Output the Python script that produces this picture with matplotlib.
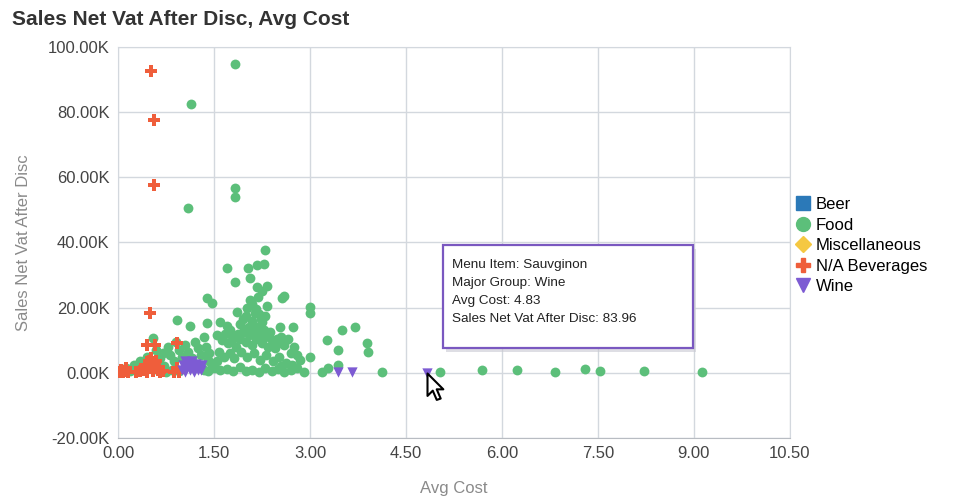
import matplotlib.pyplot as plt
from matplotlib.lines import Line2D
from matplotlib.patches import FancyBboxPatch
from matplotlib.path import Path
import matplotlib.ticker as mticker

plt.rcParams.update({
    "font.family": "Liberation Sans",
    "font.size": 11,
})

# ============================================================
# Data (avg cost, sales in thousands)
# ============================================================

food_x = [1.83, 1.14, 1.09, 1.83, 1.83, 2.30, 2.28,
          1.70, 2.03, 2.17, 1.83, 2.06, 2.17, 2.33, 2.25, 1.39, 1.47, 2.56, 2.60,
          2.06, 2.19, 3.00, 3.00, 1.86, 2.02, 2.10, 2.15, 2.20, 2.00, 1.95, 2.10,
          2.25, 2.30, 2.33, 1.90, 2.05, 0.92, 1.12, 1.39, 1.59, 1.70, 1.75, 2.53,
          2.73, 3.27, 3.50, 3.70, 3.44, 3.89, 3.91, 3.00, 3.19, 3.28, 3.44, 4.13,
          5.03, 5.69, 6.23, 6.83, 7.30, 7.53, 8.22, 9.13,
          1.55, 1.62, 1.68, 1.72, 1.80, 1.85, 1.90, 1.95, 2.00, 2.05, 2.10, 2.15,
          2.20, 2.25, 2.30, 2.35, 2.40, 2.45, 2.50, 2.55, 2.60, 2.65, 2.70, 2.75,
          2.80, 2.85, 1.58, 1.65, 1.75, 1.82, 1.92, 2.02, 2.12, 2.22, 2.32, 2.42,
          2.52, 2.62, 2.72, 1.50, 1.60, 1.70, 1.80, 1.90, 2.00, 2.10, 2.20, 2.30,
          2.40, 2.50, 2.60, 2.70, 2.80, 2.90, 2.55, 1.45, 1.55, 1.40, 1.35,
          0.05, 0.12, 0.18, 0.25, 0.30, 0.35, 0.40, 0.45, 0.50, 0.55, 0.60, 0.65,
          0.70, 0.72, 0.78, 0.82, 0.88, 0.90, 0.95, 1.00, 1.05, 1.10, 1.15, 1.20,
          1.25, 1.30, 1.35, 1.38, 1.42, 0.85, 0.95, 1.30, 1.40, 0.62, 0.75,
          1.98, 2.08, 2.18, 2.28, 1.88, 2.38, 2.48, 1.78, 2.14, 2.24]
food_y = [94.8, 82.5, 50.5, 56.6, 54.0, 37.8, 33.5,
          32.3, 32.3, 33.2, 28.0, 29.2, 26.2, 26.5, 25.0, 23.0, 21.5, 23.0, 23.5,
          22.5, 23.4, 20.3, 18.5, 18.8, 20.0, 21.0, 19.5, 18.0, 17.5, 16.5, 16.0,
          15.5, 17.5, 20.5, 15.0, 14.0, 16.3, 14.5, 15.4, 15.7, 14.5, 13.0, 14.2,
          14.2, 10.2, 13.2, 14.2, 7.0, 9.2, 6.5, 4.9, 0.3, 1.5, 2.5, 0.3,
          0.3, 0.8, 0.8, 0.3, 1.2, 0.6, 0.6, 0.3,
          11.5, 10.0, 12.0, 9.0, 11.0, 8.0, 10.5, 12.5, 9.5, 11.5, 8.5, 10.5,
          12.0, 9.0, 11.0, 8.0, 10.0, 7.5, 9.0, 11.0, 8.5, 10.5, 6.0, 8.0,
          5.5, 4.0, 6.5, 5.0, 6.0, 4.5, 6.5, 5.0, 6.0, 4.0, 5.5, 3.5,
          5.0, 3.0, 2.5, 1.5, 0.8, 1.2, 0.5, 1.8, 0.5, 1.0, 0.3, 1.5,
          0.5, 1.2, 0.3, 0.8, 1.5, 0.3, 2.0, 3.0, 3.5, 0.5, 1.0,
          0.5, 1.5, 0.5, 2.5, 1.0, 3.5, 2.0, 5.0, 3.0, 10.8, 7.0, 4.5,
          6.0, 2.0, 8.0, 5.5, 3.5, 9.5, 7.0, 5.0, 8.5, 6.5, 4.5, 9.5,
          7.5, 5.5, 11.0, 8.0, 6.0, 1.0, 0.5, 2.5, 4.0, 0.8, 0.3,
          13.5, 12.5, 14.0, 13.0, 12.0, 12.5, 10.5, 10.0, 18.5, 16.5]

na_x = [0.52, 0.56, 0.56, 0.50, 0.45, 0.58, 0.92,
        0.02, 0.05, 0.08, 0.10, 0.12, 0.15, 0.28, 0.35, 0.40, 0.42, 0.45, 0.48,
        0.50, 0.52, 0.55, 0.58, 0.60, 0.62, 0.65, 0.70, 0.88, 0.92, 0.95]
na_y = [92.6, 77.5, 57.5, 18.5, 8.6, 8.6, 9.2,
        0.3, 1.0, 0.2, 0.5, 1.5, 0.2, 0.3, 0.5, 1.0, 2.5, 0.3, 3.5,
        1.5, 4.5, 0.5, 2.5, 3.5, 1.0, 0.3, 0.5, 0.3, 1.5, 0.4]

wine_x = [1.00, 1.02, 1.05, 1.08, 1.10, 1.12, 1.15, 1.18, 1.20, 1.22, 1.25,
          1.28, 1.30, 1.32, 1.15, 1.05, 3.44, 3.66, 4.83]
wine_y = [1.0, 2.5, 0.3, 1.8, 3.0, 0.8, 2.2, 0.3, 1.5, 2.8, 0.8,
          2.0, 1.0, 2.5, 3.5, 3.5, 0.3, 0.3, 0.084]

groups = ["Beer", "Food", "Miscellaneous", "N/A Beverages", "Wine"]
colors = {"Beer": "#2b79b8", "Food": "#5cbf7a", "Miscellaneous": "#f5c842",
          "N/A Beverages": "#ef5e3b", "Wine": "#7d5bd3"}
markers = {"Beer": "s", "Food": "o", "Miscellaneous": "D",
           "N/A Beverages": "P", "Wine": "v"}

tooltip = ["Menu Item: Sauvginon", "Major Group: Wine",
           "Avg Cost: 4.83", "Sales Net Vat After Disc: 83.96"]

# ============================================================
# Plot
# ============================================================

fig = plt.figure(figsize=(9.69, 5.04), dpi=100)
ax = fig.add_axes([0.1218, 0.131, 0.6932, 0.7757])

ax.scatter(food_x, food_y, s=50, c=colors["Food"], marker="o", linewidths=0, zorder=3)
ax.scatter(na_x, na_y, s=65, c=colors["N/A Beverages"], marker="P", linewidths=0, zorder=4)
ax.scatter(wine_x, wine_y, s=55, c=colors["Wine"], marker="v", linewidths=0, zorder=4)

# mouse cursor pointing at the hovered wine item
cursor = Path([(0, 0), (0, -17), (4, -13), (7, -20), (10, -19), (7, -12),
               (12, -12), (0, 0)], closed=True)
ax.plot([wine_x[-1]], [wine_y[-1]], marker=cursor, markersize=38,
        markerfacecolor="white", markeredgecolor="black", markeredgewidth=1.5,
        linestyle="none", zorder=8)

ax.set_xlim(0, 10.5)
ax.set_ylim(-20, 100)
ax.set_xticks([0, 1.5, 3, 4.5, 6, 7.5, 9, 10.5])
ax.set_yticks([-20, 0, 20, 40, 60, 80, 100])
ax.xaxis.set_major_formatter(mticker.FormatStrFormatter("%.2f"))
ax.yaxis.set_major_formatter(mticker.FuncFormatter(lambda v, p: f"{v:.2f}K"))
ax.tick_params(length=0, labelsize=12, colors="#444444")
ax.tick_params(axis="x", pad=6)
ax.tick_params(axis="y", pad=6)
ax.grid(True, color="#d3d8de", linewidth=1)
ax.set_axisbelow(True)
for name, sp in ax.spines.items():
    sp.set_color("#d3d8de")
ax.spines["bottom"].set_color("#b8bcc2")

ax.set_xlabel("Avg Cost", color="#8a8a8a", fontsize=12, labelpad=14)
ax.set_ylabel("Sales Net Vat After Disc", color="#8a8a8a", fontsize=12, labelpad=12)

fig.text(0.012, 0.962, "Sales Net Vat After Disc, Avg Cost", fontsize=15,
         fontweight="bold", color="#333333", va="center")

handles = [Line2D([], [], linestyle="none", marker=markers[g], color=colors[g],
                  markersize=10 if g != "Miscellaneous" else 8) for g in groups]
fig.legend(handles, groups, loc="upper left", bbox_to_anchor=(0.812, 0.622),
           frameon=False, fontsize=12, handletextpad=0.15, labelspacing=0.33,
           handlelength=1.2, borderaxespad=0)

# tooltip box
shadow = FancyBboxPatch((0.4602, 0.302), 0.258, 0.203, boxstyle="square,pad=0",
                        transform=fig.transFigure, facecolor="#c9c9d2",
                        edgecolor="none", alpha=0.6, zorder=5)
fig.patches.append(shadow)
box = FancyBboxPatch((0.4572, 0.310), 0.258, 0.203, boxstyle="square,pad=0",
                     transform=fig.transFigure, facecolor="white",
                     edgecolor="#7a58c0", linewidth=1.6, zorder=6)
fig.patches.append(box)
for i, line in enumerate(tooltip):
    fig.text(0.4665, 0.475 - i * 0.0357, line, fontsize=9.7, color="#222222",
             va="center", zorder=7)

fig.savefig("out.png", dpi=100)
